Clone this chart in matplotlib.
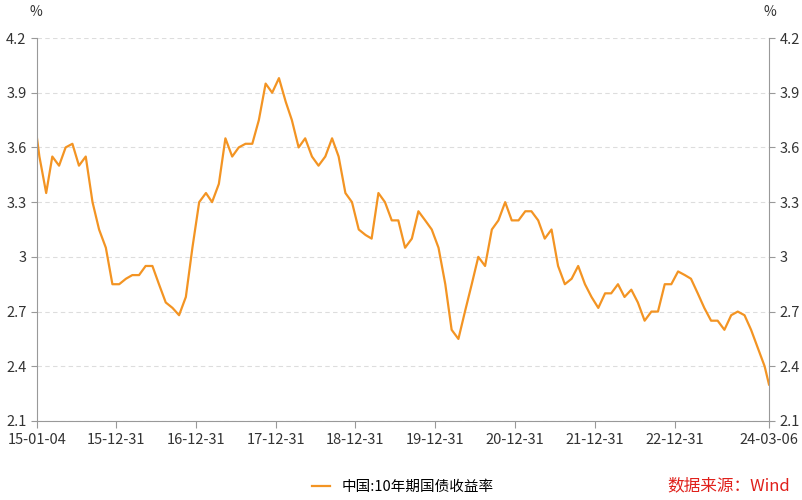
import matplotlib
matplotlib.use("Agg")
import matplotlib.pyplot as plt
import pandas as pd

plt.rcParams['font.family'] = ['Noto Sans CJK SC', 'DejaVu Sans']

months = pd.date_range("2015-01-01", "2024-02-01", freq="MS") + pd.Timedelta(days=14)
yields = [
    3.55, 3.35, 3.55, 3.5, 3.6, 3.62, 3.5, 3.55, 3.3, 3.15, 3.05, 2.85,
    2.85, 2.88, 2.9, 2.9, 2.95, 2.95, 2.85, 2.75, 2.72, 2.68, 2.78, 3.05,
    3.3, 3.35, 3.3, 3.4, 3.65, 3.55, 3.6, 3.62, 3.62, 3.75, 3.95, 3.9,
    3.98, 3.85, 3.75, 3.6, 3.65, 3.55, 3.5, 3.55, 3.65, 3.55, 3.35, 3.3,
    3.15, 3.12, 3.1, 3.35, 3.3, 3.2, 3.2, 3.05, 3.1, 3.25, 3.2, 3.15,
    3.05, 2.85, 2.6, 2.55, 2.7, 2.85, 3.0, 2.95, 3.15, 3.2, 3.3, 3.2,
    3.2, 3.25, 3.25, 3.2, 3.1, 3.15, 2.95, 2.85, 2.88, 2.95, 2.85, 2.78,
    2.72, 2.8, 2.8, 2.85, 2.78, 2.82, 2.75, 2.65, 2.7, 2.7, 2.85, 2.85,
    2.92, 2.9, 2.88, 2.8, 2.72, 2.65, 2.65, 2.6, 2.68, 2.7, 2.68, 2.6,
    2.5, 2.4,
]
dates = [pd.Timestamp("2015-01-04")] + list(months[:len(yields)]) + [pd.Timestamp("2024-03-06")]
yields = [3.65] + yields + [2.3]

tick_dates = ["2015-01-04", "2015-12-31", "2016-12-31", "2017-12-31", "2018-12-31",
              "2019-12-31", "2020-12-31", "2021-12-31", "2022-12-31", "2024-03-06"]
tick_labels = ["15-01-04", "15-12-31", "16-12-31", "17-12-31", "18-12-31",
               "19-12-31", "20-12-31", "21-12-31", "22-12-31", "24-03-06"]
y_ticks = [2.1, 2.4, 2.7, 3.0, 3.3, 3.6, 3.9, 4.2]
y_labels = ["2.1", "2.4", "2.7", "3", "3.3", "3.6", "3.9", "4.2"]

fig = plt.figure(figsize=(8.02, 5.0), dpi=100)
ax = fig.add_axes([37 / 802, 79 / 500, 732 / 802, 383 / 500])
ax.plot(dates, yields, color="#F39423", lw=1.6, label="中国:10年期国债收益率")
ax.set_xlim(pd.Timestamp("2015-01-04"), pd.Timestamp("2024-03-06"))
ax.set_ylim(2.1, 4.2)
ax.set_xticks([pd.Timestamp(d) for d in tick_dates])
ax.set_xticklabels(tick_labels, fontsize=10.5, color="#333333")
ax.set_yticks(y_ticks)
ax.set_yticklabels(y_labels, fontsize=10.5, color="#333333")
ax.tick_params(axis="y", right=True, labelright=True, color="#999999", length=4)
ax.tick_params(axis="x", color="#999999", length=5)
ax.grid(axis="y", color="#dddddd", ls=(0, (4, 3)), lw=0.8)
for s in ["left", "right", "bottom"]:
    ax.spines[s].set_color("#999999")
ax.spines["top"].set_visible(False)
fig.text(30 / 802, 1 - 16 / 500, "%", fontsize=10, color="#333333")
fig.text(764 / 802, 1 - 16 / 500, "%", fontsize=10, color="#333333")
ax.legend(loc="upper center", bbox_to_anchor=(0.5, -0.12), frameon=False, fontsize=10.5,
          handlelength=1.2)
fig.text(0.985, 0.02, "数据来源：Wind", color="#E0201B", fontsize=12, ha="right")
fig.savefig("out.png", dpi=100)
